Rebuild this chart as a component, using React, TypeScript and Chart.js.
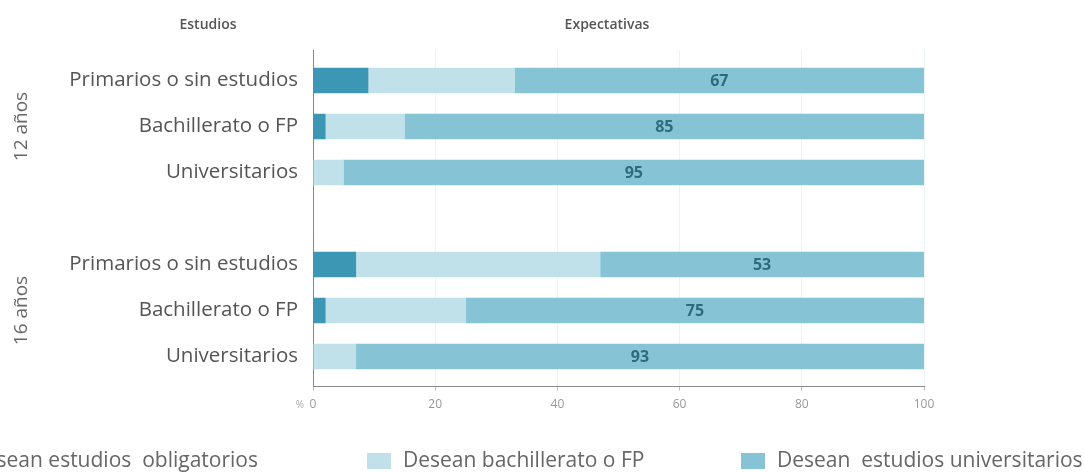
import React, { useEffect, useRef } from "react";
import { Chart, registerables } from "chart.js";

Chart.register(...registerables);

const categories = [
  "Primarios o sin estudios",
  "Bachillerato o FP",
  "Universitarios",
  "",
  "Primarios o sin estudios",
  "Bachillerato o FP",
  "Universitarios",
];
const obligatorios = [9, 2, 0, null, 7, 2, 0];
const bachilleratoFP = [24, 13, 5, null, 40, 23, 7];
const universitarios = [67, 85, 95, null, 53, 75, 93];
const ageGroups = ["12 años", "16 años"];
const ageGroupRows = [1, 5];
const seriesNames = [
  "Desean estudios  obligatorios",
  "Desean bachillerato o FP",
  "Desean  estudios universitarios",
];
const headerLeft = "Estudios";
const headerRight = "Expectativas";
const unitLabel = "%";

const colors = ["#3b97b4", "#c0e1e9", "#86c4d5"];
const FONT = "'Open Sans'";

const toPoints = (arr: (number | null)[]) => arr.map((v, i) => ({ x: v, y: i }));

const overlayPlugin = {
  id: "overlay",
  afterDatasetsDraw(chart: any) {
    const ctx = chart.ctx;
    const meta = chart.getDatasetMeta(2);
    ctx.save();
    ctx.fillStyle = "#2e6b7c";
    ctx.font = `bold 16px ${FONT}`;
    ctx.textAlign = "center";
    ctx.textBaseline = "middle";
    meta.data.forEach((el: any, i: number) => {
      const v = universitarios[i];
      if (v == null) return;
      const c = el.getCenterPoint();
      ctx.fillText(String(v), c.x, c.y + 1);
    });
    ctx.restore();
  },
  afterDraw(chart: any) {
    const ctx = chart.ctx;
    const area = chart.chartArea;
    const yScale = chart.scales.y;
    ctx.save();
    // headers
    ctx.fillStyle = "#555";
    ctx.font = `600 14px ${FONT}`;
    ctx.textAlign = "center";
    ctx.textBaseline = "middle";
    ctx.fillText(headerLeft, 208, 25);
    ctx.fillText(headerRight, 607, 25);
    // group labels
    ctx.fillStyle = "#666";
    ctx.font = `19px ${FONT}`;
    ageGroups.forEach((g, i) => {
      const y = yScale.getPixelForValue(ageGroupRows[i]);
      ctx.save();
      ctx.translate(22, y);
      ctx.rotate(-Math.PI / 2);
      ctx.fillText(g, 0, 0);
      ctx.restore();
    });
    // unit
    ctx.fillStyle = "#aaa";
    ctx.font = `10px ${FONT}`;
    ctx.fillText(unitLabel, area.left - 13, 405);
    // legend
    ctx.font = `21px ${FONT}`;
    ctx.textAlign = "left";
    const firstW = ctx.measureText(seriesNames[0]).width;
    const textX = [258 - firstW, 403, 777];
    seriesNames.forEach((n, i) => {
      ctx.fillStyle = colors[i];
      ctx.fillRect(textX[i] - 36, 453, 24, 16);
      ctx.fillStyle = "#666";
      ctx.fillText(n, textX[i], 461);
    });
    ctx.restore();
  },
};

export default function App() {
  const ref = useRef<HTMLCanvasElement | null>(null);
  useEffect(() => {
    if (!ref.current) return;
    const chart = new Chart(ref.current, {
      type: "bar",
      data: {
        datasets: [
          { label: seriesNames[0], data: toPoints(obligatorios), backgroundColor: colors[0] },
          { label: seriesNames[1], data: toPoints(bachilleratoFP), backgroundColor: colors[1] },
          { label: seriesNames[2], data: toPoints(universitarios), backgroundColor: colors[2] },
        ],
      },
      options: {
        indexAxis: "y",
        responsive: false,
        animation: false,
        datasets: { bar: { barThickness: 25, borderWidth: 0 } },
        layout: { padding: { top: 50, right: 160, left: 0, bottom: 0 } },
        plugins: { legend: { display: false }, tooltip: { enabled: false } },
        scales: {
          x: {
            stacked: true,
            min: 0,
            max: 100,
            ticks: { stepSize: 20, color: "#999", font: { size: 12, family: FONT }, padding: 7 },
            grid: { color: "#edf3f5", tickColor: "#bbb", tickLength: 4 },
            border: { color: "#888", width: 1 },
            afterFit: (s: any) => {
              s.height = 85.5;
            },
          },
          y: {
            type: "linear",
            stacked: true,
            reverse: true,
            offset: false,
            min: -0.663,
            max: 6.652,
            afterBuildTicks: (s: any) => {
              s.ticks = categories.map((_, i) => ({ value: i }));
            },
            ticks: {
              color: "#555",
              font: { size: 20.5, family: FONT },
              padding: 15,
              autoSkip: false,
              callback: (v: any) => categories[v] ?? "",
            },
            grid: { display: false, drawTicks: false, offset: false },
            border: { display: true, color: "#888", width: 1 },
            afterFit: (s: any) => {
              s.width = 313;
            },
          },
        },
      },
      plugins: [overlayPlugin],
    } as any);
    return () => chart.destroy();
  }, []);
  return (
    <div style={{ position: "absolute", left: 0, top: 0, width: 1084, height: 472, background: "#fff" }}>
      <canvas ref={ref} width={1084} height={472} style={{ width: 1084, height: 472 }} />
    </div>
  );
}
